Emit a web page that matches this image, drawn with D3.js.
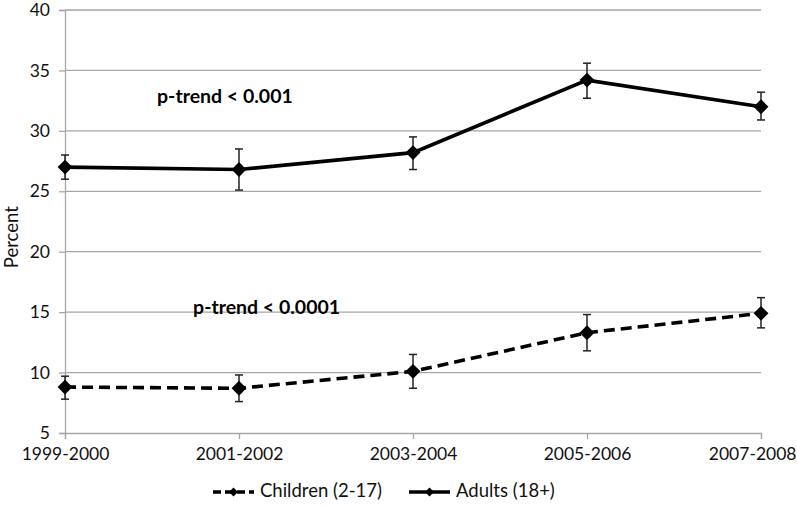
<!DOCTYPE html>
<html><head><meta charset="utf-8">
<script src="https://cdn.jsdelivr.net/npm/d3@7"></script>
<style>
html,body{margin:0;padding:0;background:#fff;}
svg text{font-family:Lato,"Open Sans",sans-serif;}
</style></head>
<body><svg id="c" width="797" height="506"></svg>
<script>
const categories = ["1999-2000","2001-2002","2003-2004","2005-2006","2007-2008"];
const adults = [27.0, 26.8, 28.2, 34.2, 32.0];
const adultsLo = [26.0, 25.1, 26.8, 32.7, 30.9];
const adultsHi = [28.0, 28.5, 29.5, 35.6, 33.2];
const children = [8.8, 8.7, 10.1, 13.3, 14.9];
const childrenLo = [7.8, 7.6, 8.7, 11.8, 13.7];
const childrenHi = [9.7, 9.8, 11.5, 14.8, 16.2];
const yTicks = [5,10,15,20,25,30,35,40];
const seriesNames = ["Children (2-17)","Adults (18+)"];
const annotations = [{text:"p-trend < 0.001", cat:0.529, val:32.3},{text:"p-trend < 0.0001", cat:0.736, val:14.85}];

const svg = d3.select("#c");
const x = d3.scalePoint().domain(categories).range([65,761]);
const y = d3.scaleLinear().domain([5,40]).range([433,10]);
const grey = "#a6a6a6";

svg.append("g").selectAll("line").data(yTicks.filter(t=>t>5)).join("line")
  .attr("x1",65).attr("x2",761).attr("y1",d=>y(d)).attr("y2",d=>y(d))
  .attr("stroke",grey).attr("stroke-width",1.3);

const ya = svg.append("g").attr("transform","translate(65,0)")
  .call(d3.axisLeft(y).tickValues(yTicks).tickSize(6).tickPadding(9));
const xa = svg.append("g").attr("transform","translate(0,433)")
  .call(d3.axisBottom(x).tickSize(6).tickPadding(4));
[ya,xa].forEach(a=>{
  a.select(".domain").attr("stroke",grey).attr("stroke-width",1.3);
  a.selectAll(".tick line").attr("stroke",grey).attr("stroke-width",1.3);
  a.selectAll("text").attr("fill","#111").style("font-size","17.5px");
});
xa.selectAll("text").attr("dy","0.95em");
// keep last label inside the canvas, as the reference does
xa.selectAll(".tick").filter((d,i,n)=>i===n.length-1).select("text")
  .attr("text-anchor","end").attr("x",797-761-1);

svg.append("text").attr("transform","translate(18,"+y(21.2)+") rotate(-90)")
  .attr("text-anchor","middle").attr("fill","#111").style("font-size","18.5px").text("Percent");

const diamond = {draw(ctx,size){const r=Math.sqrt(size)/2*1.42;ctx.moveTo(0,-r);ctx.lineTo(r,0);ctx.lineTo(0,r);ctx.lineTo(-r,0);ctx.closePath();}};
const line = d3.line().x((d,i)=>x(categories[i])).y(d=>y(d));

function series(vals, lo, hi, dash){
  const g = svg.append("g");
  g.append("path").datum(vals).attr("d",line).attr("fill","none")
    .attr("stroke","#000").attr("stroke-width",3.6).attr("stroke-dasharray",dash);
  const eb = g.append("g").selectAll("g").data(vals).join("g");
  eb.append("line").attr("x1",(d,i)=>x(categories[i])).attr("x2",(d,i)=>x(categories[i]))
    .attr("y1",(d,i)=>y(lo[i])).attr("y2",(d,i)=>y(hi[i])).attr("stroke","#222").attr("stroke-width",1.5);
  [lo,hi].forEach(arr=>{
    eb.append("line").attr("x1",(d,i)=>x(categories[i])-4).attr("x2",(d,i)=>x(categories[i])+4)
      .attr("y1",(d,i)=>y(arr[i])).attr("y2",(d,i)=>y(arr[i])).attr("stroke","#222").attr("stroke-width",1.5);
  });
  g.append("g").selectAll("path").data(vals).join("path")
    .attr("transform",(d,i)=>`translate(${x(categories[i])},${y(d)})`)
    .attr("d",d3.symbol().type(diamond).size(110)).attr("fill","#000");
}
series(children, childrenLo, childrenHi, "11,6");
series(adults, adultsLo, adultsHi, null);

const step = x.step();
svg.selectAll("text.ann").data(annotations).join("text").attr("class","ann")
  .attr("x",d=>65+d.cat*step).attr("y",d=>y(d.val)).attr("fill","#000")
  .style("font-size","19.5px").style("font-weight","bold").text(d=>d.text);

const leg = svg.append("g");
const items = [{name:seriesNames[0],x0:213,dash:"8,4"},{name:seriesNames[1],x0:409,dash:null}];
items.forEach(it=>{
  leg.append("line").attr("x1",it.x0).attr("x2",it.x0+41).attr("y1",492).attr("y2",492)
    .attr("stroke","#000").attr("stroke-width",3.6).attr("stroke-dasharray",it.dash);
  leg.append("path").attr("transform",`translate(${it.x0+20.5},492)`)
    .attr("d",d3.symbol().type(diamond).size(40)).attr("fill","#000");
  leg.append("text").attr("x",it.x0+47).attr("y",491).attr("dy","0.35em").attr("fill","#111")
    .style("font-size","18.5px").text(it.name);
});
</script></body></html>
